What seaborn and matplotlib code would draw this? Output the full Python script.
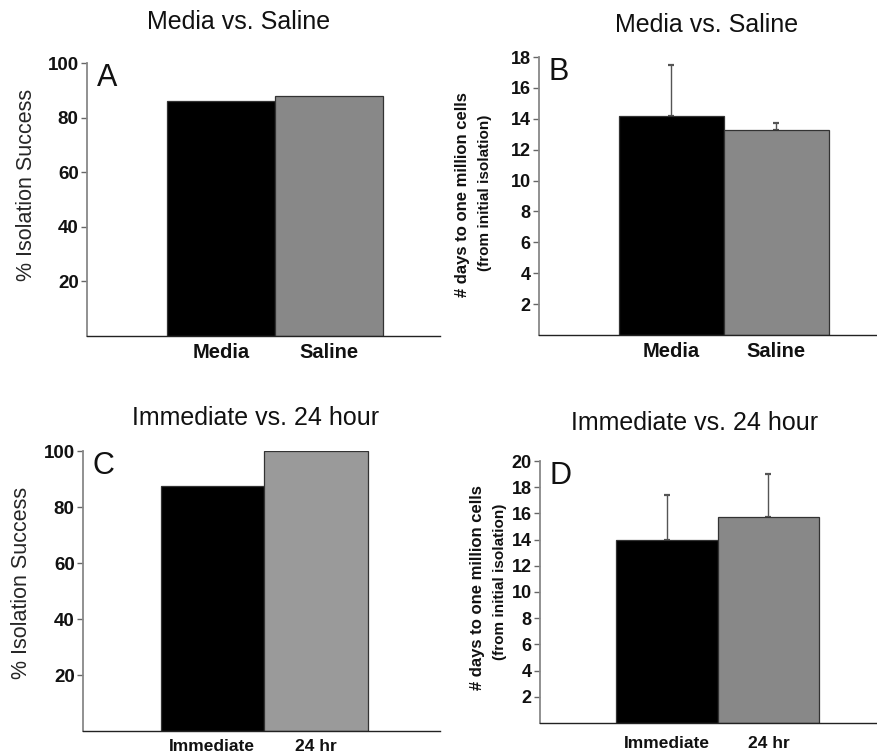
import matplotlib
matplotlib.use("Agg")
import matplotlib.pyplot as plt
import numpy as np
import pandas as pd
import seaborn as sns

# panel A / B: media vs saline
media_cats = ["Media", "Saline"]
success_media = [86.2, 87.8]
days_media = [14.2, 13.3]
days_media_err = [3.3, 0.45]

# panel C / D: immediate vs 24 hour
time_cats = ["Immediate", "24 hr"]
success_time = [87.6, 100.0]
days_time = [14.0, 15.7]
days_time_err = [3.4, 3.3]

W, H = 878, 755
FONT = "Liberation Sans"

sns.set_theme(style="white")
plt.rcParams["font.family"] = [FONT, "DejaVu Sans"]


def px_axes(fig, left, top, right, bottom):
    return fig.add_axes([left / W, 1 - bottom / H, (right - left) / W, (bottom - top) / H])


def draw_panel(ax, cats, vals, colors, ymax, yticks, xlim, letter, err=None,
               tick_fs=13.5, xlab_fs=14.5, xpad=6):
    df = pd.DataFrame({"cat": cats, "val": vals})
    sns.barplot(data=df, x="cat", y="val", hue="cat", palette=colors, width=1.0,
                edgecolor="#333333", linewidth=0.9, legend=False, ax=ax)
    if err is not None:
        ax.errorbar(np.arange(len(vals)), vals, yerr=[np.zeros(len(err)), err],
                    fmt="none", ecolor="#555555", elinewidth=1.0, capsize=2.5, capthick=1.6, zorder=1)
        for p in ax.patches:
            p.set_zorder(2)
    ax.set_ylim(0, ymax)
    ax.set_xlim(*xlim)
    ax.set_yticks(yticks)
    ax.set_xlabel("")
    ax.set_ylabel("")
    for s in ["top", "right"]:
        ax.spines[s].set_visible(False)
    ax.spines["left"].set_color("#888888")
    ax.spines["left"].set_linewidth(1.3)
    ax.spines["bottom"].set_color("#222222")
    ax.spines["bottom"].set_linewidth(1.0)
    ax.tick_params(axis="y", which="both", left=True, direction="out", length=4, width=1,
                   color="#666666", labelsize=tick_fs, pad=2)
    ax.tick_params(axis="x", bottom=False, labelsize=xlab_fs, pad=xpad)
    for t in ax.get_yticklabels() + ax.get_xticklabels():
        t.set_fontweight("bold")
        t.set_color("#111111")
    ax.text(0.028, 1.0, letter, transform=ax.transAxes, fontsize=22, va="top", ha="left", color="#111111")


fig = plt.figure(figsize=(W / 100, H / 100), dpi=100)
fig.patch.set_facecolor("white")

axA = px_axes(fig, 87, 63, 440, 336)
draw_panel(axA, media_cats, success_media, ["#000000", "#888888"], 100, [20, 40, 60, 80, 100],
           (-1.24, 2.03), "A", xpad=-1)
axB = px_axes(fig, 539, 57, 878, 335)
draw_panel(axB, media_cats, days_media, ["#000000", "#888888"], 18, list(range(2, 19, 2)),
           (-1.26, 1.97), "B", err=days_media_err, tick_fs=13, xpad=-1)
axC = px_axes(fig, 83, 451, 440, 731)
draw_panel(axC, time_cats, success_time, ["#000000", "#9a9a9a"], 100, [20, 40, 60, 80, 100],
           (-1.25, 2.2), "C", xlab_fs=12.5, xpad=0)
axD = px_axes(fig, 540, 461, 878, 723)
draw_panel(axD, time_cats, days_time, ["#000000", "#888888"], 20, list(range(2, 21, 2)),
           (-1.25, 2.08), "D", err=days_time_err, tick_fs=13, xlab_fs=12.5, xpad=3)

# titles
title_kw = dict(fontsize=18, ha="center", va="center", color="#111111")
fig.text(239 / W, 1 - 22 / H, "Media vs. Saline", **title_kw)
fig.text(707 / W, 1 - 25 / H, "Media vs. Saline", **title_kw)
fig.text(256 / W, 1 - 418 / H, "Immediate vs. 24 hour", **title_kw)
fig.text(695 / W, 1 - 423 / H, "Immediate vs. 24 hour", **title_kw)

# y labels
fig.text(27 / W, 1 - 185 / H, "% Isolation Success", rotation=90, fontsize=15.5, ha="center", va="center")
fig.text(22 / W, 1 - 583 / H, "% Isolation Success", rotation=90, fontsize=15.5, ha="center", va="center")
for x_main, y_main, x_sub, y_sub in [(463, 195, 485, 193), (478, 588, 500, 582)]:
    fig.text(x_main / W, 1 - y_main / H, "# days to one million cells", rotation=90,
             fontsize=12, fontweight="bold", ha="center", va="center", color="#111111")
    fig.text(x_sub / W, 1 - y_sub / H, "(from initial isolation)", rotation=90,
             fontsize=11, fontweight="bold", ha="center", va="center", color="#111111")

fig.savefig("out.png", dpi=100, facecolor="white")
